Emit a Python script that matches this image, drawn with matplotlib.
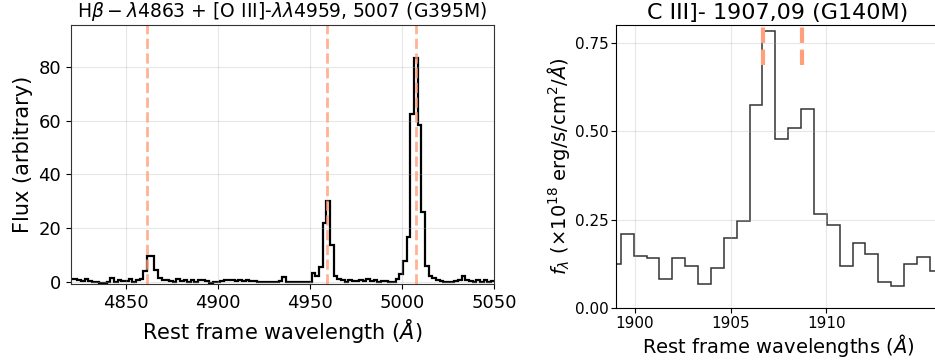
"""
Two-panel emission line figure: NIRSpec G395M (Hb + [OIII]) and G140M (CIII]).
"""
import numpy as np
import matplotlib
matplotlib.use('Agg')
import matplotlib.pyplot as plt

# --- G395M panel: flux per pixel on a regular rest-frame grid ---
g395_start = 4819.72   # first pixel edge (A)
g395_step = 1.988      # pixel width (A)
g395_flux = [
    1.0, 0.8, 0.7, 0.3, 0.9, 0.2, -0.1, -0.3, -0.4, -0.4,
    -0.3, 1.3, -0.1, 0.5, 0.4, 0.2, 0.9, 0.0, 0.6, 1.1,
    4.1, 9.7, 9.5, 4.2, 1.3,
    0.7, 0.5, 0.2, 0.0, 1.1, 0.1,
    0.5, -0.3, 0.7, -0.3, 0.5, 0.5, 0.2, -0.4, -0.1, -0.2,
    0.2, 0.7, 0.7, 0.7, 0.2, 0.7, 0.2, 0.7, 0.2, 0.2,
    -0.1, -0.3, -0.3, -0.3, -0.3, -0.3, 0.3, 1.7, -0.3,
    -0.3, -0.3, -0.3, -0.1, -0.1, 0.0,
    3.1, 1.9, 5.5, 22.0, 30.0, 13.5, 2.2, 1.0,
    0.5, -0.1, 0.5, 0.2, 0.2, 0.7, 0.2, 1.1, 0.2, 0.7,
    -0.1, 0.2, 0.2, -0.3, -0.3,
    0.8, 3.0, 7.5, 16.5, 62.5, 83.5, 58.5, 26.0, 5.8, 2.0, 1.3,
    0.7, 0.2, -0.3, -0.1, -0.3, 0.1, 0.7, 2.0, 0.7, 0.2,
    -0.1, 0.5, -0.3, 0.5, -0.3, 0.1,
]
g395_lines = [4861.3, 4959.5, 5007.4]

# --- G140M panel ---
g140_start = 1898.58
g140_step = 0.6733
g140_flux = [
    0.124, 0.21, 0.148, 0.141, 0.082, 0.141, 0.12, 0.069, 0.113, 0.198,
    0.247, 0.575, 0.782, 0.477, 0.51, 0.563, 0.267, 0.235, 0.119, 0.183,
    0.154, 0.074, 0.062, 0.124, 0.144, 0.105,
]
g140_lines = [1906.68, 1908.73]

LINE_COLOR = '#FFA07A'

fig = plt.figure(figsize=(9.35, 3.62), dpi=100)

# left panel
ax1 = fig.add_axes([0.0759, 0.2155, 0.4524, 0.7155])
edges = g395_start + g395_step * np.arange(len(g395_flux) + 1)
ax1.stairs(g395_flux, edges, color='k', lw=1.6, baseline=None)
for w in g395_lines:
    ax1.axvline(w, color=LINE_COLOR, ls='--', lw=2, alpha=0.8)
ax1.set_xlim(4820.2, 5050)
ax1.set_ylim(-0.9, 95.7)
ax1.set_xticks([4850, 4900, 4950, 5000, 5050])
ax1.set_yticks([0, 20, 40, 60, 80])
ax1.grid(alpha=0.3)
ax1.tick_params(labelsize=13)
for s in ax1.spines.values():
    s.set_color('#333333')
ax1.set_xlabel(r'Rest frame wavelength ($\AA$)', fontsize=15)
ax1.set_ylabel('Flux (arbitrary)', fontsize=15)
ax1.set_title(r'H$\beta-\lambda$4863 + [O III]-$\lambda\lambda$4959, 5007 (G395M)',
              fontsize=13.5)

# right panel
ax2 = fig.add_axes([0.6588, 0.1492, 0.3465, 0.7818])
edges = g140_start + g140_step * np.arange(len(g140_flux) + 1)
ax2.stairs(g140_flux, edges, color='k', lw=1.1, alpha=0.8, baseline=None)
for w in g140_lines:
    ax2.axvline(w, ymin=0.86, ymax=1.0, color=LINE_COLOR, ls='--', lw=3)
ax2.set_xlim(1899.0, 1915.94)
ax2.set_ylim(0, 0.80)
ax2.set_xticks([1900, 1905, 1910])
ax2.set_yticks([0.0, 0.25, 0.5, 0.75])
ax2.grid(alpha=0.3)
ax2.tick_params(labelsize=11, pad=2)
ax2.set_xlabel(r'Rest frame wavelengths ($\AA$)', fontsize=14, labelpad=1)
ax2.set_ylabel(r'$f_\lambda$ ($\times10^{18}$ erg/s/cm$^2$/$\AA$)', fontsize=14,
               labelpad=2)
ax2.set_title('C III]- 1907,09 (G140M)', fontsize=16, pad=4)

fig.savefig('out.png', dpi=100)
plt.close(fig)
